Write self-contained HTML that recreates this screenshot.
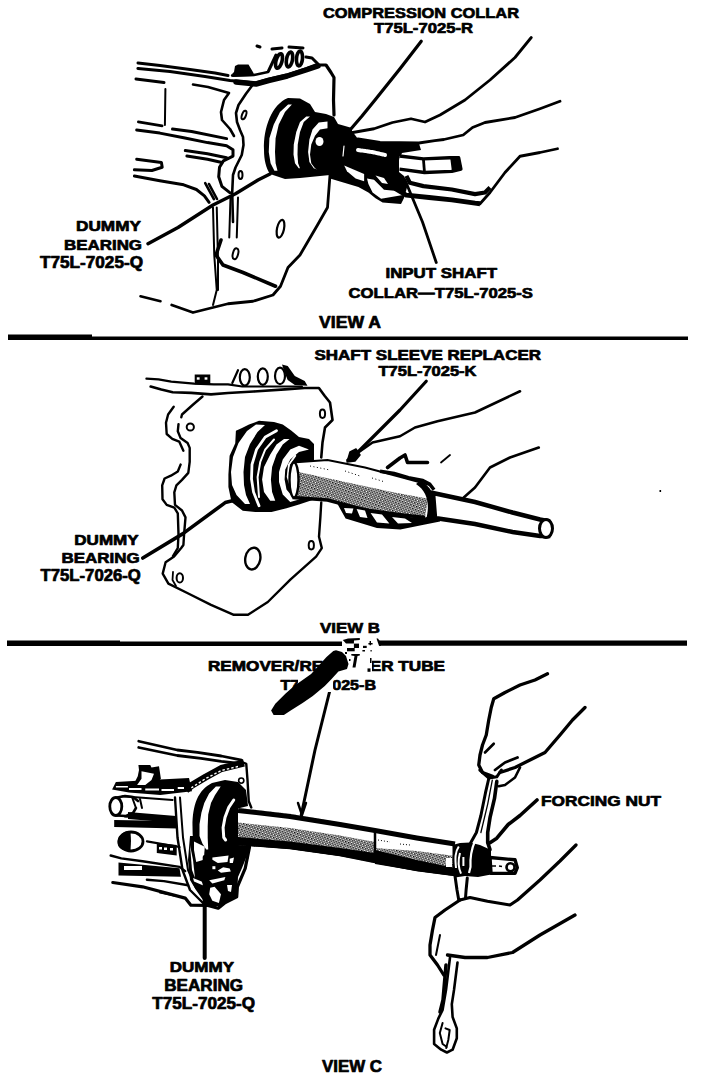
<!DOCTYPE html>
<html><head><meta charset="utf-8"><style>
html,body{margin:0;padding:0;background:#fff;width:704px;height:1078px;overflow:hidden}
svg{display:block}
text{font-family:"Liberation Sans",sans-serif;font-weight:bold;fill:#000;stroke:#000;stroke-width:0.7px;stroke-linejoin:round}
</style></head><body>
<svg width="704" height="1078" viewBox="0 0 704 1078">
<rect width="704" height="1078" fill="#fff"/>
<g fill="#000" stroke="none">
<path d="M8 334.5H92V336.5H688V340H8Z"/>
<path d="M7 640.5H120V641.5H342V646H7Z"/>
<path d="M379,640.5H687V645.8H379Z"/>
</g>
<g id="viewA" fill="none" stroke="#000" stroke-width="2.6" stroke-linecap="round" stroke-linejoin="round">
<!-- housing lines -->
<path d="M138,63 L160,65.5 L190,69.5 L215,73 L228,75.5" stroke-width="3"/>
<path d="M138,68.5 L170,71.5 L205,76.5 L230,80.5 L256,83 L268.5,79.4 L287.25,75 L306,68.75 L316,65 L326,65 L331,72.5 L334,77.5 L333.5,100 L334,115" stroke-width="3.2"/>
<path d="M232,75.5 L254,75 L268,72" stroke-width="2.4"/>
<path d="M236,82 L256,84 L268.5,80.5 L287.25,76 L306,70 L318,66" stroke-width="5.5"/>
<path d="M136,79 L164,82.5" stroke-width="3"/>
<path d="M193,84.5 L208,87 L229,93 L224,100 L221,112 L222,120 L230,129 L234,136"/>
<path d="M253.5,83.75 L246,93.75 L238.5,105 L236,113 L237,122 L240,130 L243,137 L243.5,145 L241.75,155 L238,162.5 L235.5,167.5 L233,175 L232.2,192.7 L233,222"/>
<path d="M165.4,89 L164.9,125.1" stroke-width="2"/>
<path d="M138.3,121.9 L162.2,125.9"/>
<path d="M136.7,129.9 L159.8,133.1 L183.7,137.8 L207.5,142.6 L226.6,145.8 L233,149.8 L233,156.1 L223.4,160.9 L219.5,167.3 L218.7,176.8 L221.9,186.4 L229.8,192.7" stroke-width="3"/>
<path d="M172.5,129.1 L191.6,131.5 L226.6,138.6" stroke-width="3"/>
<path d="M185.3,150.6 L207.5,153.7 L226.6,157.7" stroke-width="3"/>
<path d="M186.9,156.1 L207.5,159.3 L221.9,162.5" stroke-width="3"/>
<path d="M136.7,159.3 L161.4,162.5 L162.2,167.3 L151.9,170.5 L134.4,169.7" stroke-width="3"/>
<path d="M134.4,176 L159.8,180.8 L183.7,184.8 L196.4,189.5 L204.4,195.9 L209.1,202.3" stroke-width="3"/>
<path d="M205.2,183.2 L213.9,199.1 M209,184 L217,199"/>
<path d="M213,207.5 L214.25,255 L216.75,290 L213,305 M216.75,207.5 L218,260 L218,290" stroke-width="2"/>
<path d="M230.5,197.5 L229.25,237.5 M238,197.5 L236.75,237.5" stroke-width="2"/>
<path d="M221,240 L216,255 L223,265 L243,272.5 L275.5,286.25" stroke-width="3.6"/>
<path d="M330,175 L327.5,207.5 L317.5,225 L300,255 L288,267.5 L280.5,286.25 L273,295 L253,301.25 L228,303.75 L213,307.5 L193,312.5 L171.75,305" stroke-width="2.8"/>
<path d="M140.5,296.25 L160.5,301.25" stroke-width="2.6"/>
<!-- holes -->
<ellipse cx="280.5" cy="228.75" rx="3.5" ry="9" transform="rotate(12 280.5 228.75)" stroke-width="2.2"/>
<ellipse cx="235.5" cy="253.75" rx="2.6" ry="5.5" transform="rotate(15 235.5 253.75)" stroke-width="2"/>
<ellipse cx="240.5" cy="175" rx="2" ry="4" stroke-width="2"/>
<ellipse cx="244" cy="115" rx="2" ry="4.5" transform="rotate(20 244 115)" stroke-width="2"/>
<!-- bolts on top -->
<ellipse cx="279" cy="61" rx="3" ry="7.5" transform="rotate(15 279 61)" stroke-width="3.6"/>
<ellipse cx="289.5" cy="59.5" rx="3" ry="7.5" transform="rotate(10 289.5 59.5)" stroke-width="3.6"/>
<ellipse cx="299.5" cy="58.5" rx="3" ry="7.5" transform="rotate(5 299.5 58.5)" stroke-width="3.6"/>
<path d="M268.5,71 L276,55 M272,49 L282,48 M289,47 L303,48 M306,57 L312,58 L318,64" stroke-width="3"/>
<path d="M257,46 L260,47" stroke-width="3"/>
</g>
<g fill="#000" stroke="none">
<!-- nut blob on top -->
<path d="M232.25,76.9 L232.25,73.75 L234,72 L235,66 L238,64.4 L248.5,64.4 L253.5,73 L254.75,76 Z"/>
<!-- bearing silhouette -->
<path d="M264,150 C263,128 272,104 288,98 L300,98.5 L310,104 L315,112 L326,114 L334,117 L338,124 L352,128 L352,172 L340,174 L320,176 L300,178 L285,179 L270,174 C266,168 264,160 264,150 Z"/>
</g>
<g fill="#fff" stroke="none">
<path d="M288.1,104.5 L280,112 L273.75,124.5 L269.4,138.25 L268.75,152 L270.6,163.25 L274.4,170.75 L277.5,170.75 L275.6,163.25 L275,152 L275.6,138.25 L278.75,124.5 L285,112 L291.9,104.5 Z"/>
<path d="M306.25,116.4 L300,122 L296.25,132 L293.75,144.5 L293.5,154.5 L295,163.25 L298.75,168.25 L300,168.25 L298.1,163.25 L297.5,154.5 L297.75,144.5 L300,132 L303.75,122 L310,116.4 Z"/>
<path d="M327.5,121.4 L318.75,122.6 L312.5,129.5 L309.4,139.5 L308.1,152 L309.4,162 L313.75,168.25 L316.9,169.5 L315,168.25 L311.25,163.25 L310,154.5 L311.25,144.5 L315,135.75 L320,129.5 L327.5,128.25 Z"/>
</g>
<ellipse cx="319.5" cy="141.5" rx="4" ry="4.5" fill="#fff"/>
<g fill="#000" stroke="none">
<path d="M330,130 L352,131 L358,139 L380,142 L400,143 L419,143.5 L421,150 L402,153 L399,160 L399,172 L404,176 L408,184 L404,198 L401,204 L382.6,202.6 L375.5,198.3 L368.4,192.6 L358.4,186.9 L344.2,182.7 L330,178.4 Z"/>
</g>
<g fill="#fff" stroke="none">
<path d="M344.2,165.6 L364.1,174.1 L364.1,181.3 L355.6,178.4 L347,171.3 Z"/>
<path d="M367,178.4 L374,179.8 L384,189.8 L399.6,191.2 L403,195 L381.1,198.7 L372.6,192.6 L368.4,184.1 Z"/>
<path d="M375.5,175.6 L384,178 L388,184 L382,183 Z"/>
</g>
<g fill="none" stroke="#fff" stroke-linecap="round">
<path d="M358,150 L372,152 L385,155" stroke-width="4" stroke-dasharray="3 1.5"/>
<path d="M344,146 L343,156" stroke-width="1.2"/>
</g>
<path d="M399.5,156 L423.4,158.9 L449.5,157.7 L458.6,157.7 L460.9,169.1 L451.8,171.4 L424.5,172.5 L399.5,169.1" fill="#fff" stroke="#000" stroke-width="3.4" stroke-linejoin="round"/>
<path d="M423.4,158.9 L424.5,172.5" fill="none" stroke="#000" stroke-width="2.8"/>
<path d="M450,156 L459,156 L461,170 L452,172 Z" fill="#000"/>
<path d="M406.4,175.9 L409.8,182.7 L423.4,186.1 L451.8,189.5 L475,194.1 L485,192.5 L490,187.5" fill="none" stroke="#000" stroke-width="4.2" stroke-linejoin="round"/>
<path d="M395,188.4 L406.4,195.2 L429.1,197.5 L451.8,199.8 L475,203.2 L480,203.75" fill="none" stroke="#000" stroke-width="4.8" stroke-linejoin="round"/>
<g fill="none" stroke="#000" stroke-linecap="round" stroke-linejoin="round" stroke-width="2.6">
<!-- leader compression collar -->
<path d="M421.25,41.25 L400,68.75 L375,100 L362,116 L350,130" stroke-width="3.2"/>
<!-- fingers -->
<path d="M350,133 L374,128.75 L392.5,122.5 L411,118.75 L425,122 L440,115 L465,100 L490,80 L515,57.5 L531.25,37.5" stroke-width="2.8"/>
<path d="M358,139 L380,142.5 L418.9,143 L434.8,140.7 L443.9,139.5 L463.2,135 L472.5,127.5 L485,122.5 L515,117.5 L540,108.75 L560,101.25" stroke-width="2.8"/>
<path d="M480,203.75 L490,192.5 L505,172.5 L520,156.25 L540,152.5 L557.5,148.75" stroke-width="2.8"/>
<!-- input shaft leader -->
<path d="M405,180 L422.5,222 L436.25,262.5" stroke-width="2.8"/>
<!-- dummy bearing leader -->
<path d="M148,243.75 L178,227.5 L213,205 L235.5,193.75 L258,180 L270,174" stroke-width="3.4"/>
</g>
<defs>
<pattern id="knurl" width="3" height="3" patternUnits="userSpaceOnUse" patternTransform="rotate(20)">
<rect width="3" height="3" fill="#fff"/><rect width="1.6" height="1.6" fill="#000"/><rect x="1.5" y="1.5" width="1.4" height="1.4" fill="#000"/>
</pattern>
<linearGradient id="knurlfade" x1="0" y1="0" x2="0" y2="1">
<stop offset="0" stop-color="#fff" stop-opacity="1"/>
<stop offset="0.35" stop-color="#fff" stop-opacity="0.7"/>
<stop offset="0.6" stop-color="#fff" stop-opacity="0"/>
<stop offset="1" stop-color="#fff" stop-opacity="0"/>
</linearGradient>
</defs>
<g id="viewB" fill="none" stroke="#000" stroke-width="2.4" stroke-linecap="round" stroke-linejoin="round">
<!-- top lines -->
<path d="M146.4,378.7 L158.5,379.4 L171.25,381.6 L194,383.7 L213.9,384.4 L228,384.4 L242.2,386.5 L301.9,386.5" stroke-width="2.2"/>
<path d="M150.65,386.5 L161.3,389.4 L172.7,392.2 L191.1,392.9 L211,394.4 L228,393 L253.6,391.5 L284.8,389.4 L304.7,388 L318.9,388 L324.6,395.8 L330,402.5 L332.5,420 L325,427.5 L322.5,442.5 L321.25,457.5" stroke-width="2.6"/>
<path d="M232.3,383 L238,370.2" stroke-width="2.2"/>
<ellipse cx="244.8" cy="377.3" rx="5" ry="8.2" stroke-width="2.2"/>
<ellipse cx="262.8" cy="376.6" rx="5" ry="8.2" stroke-width="2.2"/>
<ellipse cx="280" cy="375.9" rx="5" ry="8.2" stroke-width="2.2"/>
<!-- flange left wavy edges -->
<path d="M202.5,396.5 L192.6,405 L182,414.5 L181.3,417.3" stroke-width="2.4"/>
<path d="M178.5,424.2 L177.8,431.2 L180.6,438.1 L187.6,443 L189.7,447.9 L189.7,461.8 L188.3,472.9 L182,479.9 L176.4,485.4 L174.3,492.4 L175,504.9 L182,510.5 L185.5,517.4 L184.1,534.1 L183.4,545 L181.2,548 L174.1,556.6 L165.6,562.3 L162.7,573.6 L168.4,583.6 L188.3,593.5 L211,604.9 L233.8,614.8 L248,614.8 L267.8,602 L290.6,579.3 L316.1,556.6 L321.8,548.1 L319,536.7 L320.4,516.8 L321.25,502.5"/>
<path d="M173.7,406.8 L168.1,414.5 L166,422.8 L166.7,434 L172.3,438.8 L179.2,441.6 L183.4,450.7"/>
<path d="M180.6,464.6 L177.8,471.5 L170.9,475.7 L164.6,478.5 L162.2,485.4 L162.5,499.3 L166.7,504.9 L174.3,507.7 L177.8,513.3 L178.5,534.1 L177.8,548 L173,556"/>
<circle cx="190.3" cy="427" r="3.6" stroke-width="2"/>
<ellipse cx="179.8" cy="577.9" rx="3.2" ry="4.6" stroke-width="2"/>
<path d="M173,572 L172.5,580 L176,586" stroke-width="1.8"/>
<ellipse cx="252.8" cy="558.6" rx="7.5" ry="11" transform="rotate(10 252.8 558.6)" stroke-width="2.4"/>
<ellipse cx="311.3" cy="545.2" rx="2.6" ry="4.2" stroke-width="2"/>
<ellipse cx="322.5" cy="413.75" rx="2.6" ry="4.2" stroke-width="2"/>
</g>
<g fill="#000" stroke="none">
<path d="M194.7,374.5 H210.3 V384.4 H194.7 Z"/>
<rect x="196.8" y="377.3" width="2.8" height="2.4" fill="#fff"/><rect x="204.6" y="377.3" width="2.8" height="2.4" fill="#fff"/>
<path d="M282,364.5 L287.7,366 L294.8,375.9 L304.7,380.9 L307.5,385.8 L294.8,385.1 L287.7,380.1 L284.8,373 Z"/>
<!-- bearing silhouette -->
<path d="M228.4,474.5 L229.6,455.75 L235.25,443.25 L235.9,430.75 L241.5,428.25 L249,424.5 L259,420.75 L274,422 L282.75,424.5 L291.5,430.75 L299,437 L309,438.9 L314,444 L314,499.5 L299,504.5 L286.5,508.25 L271.5,512 L255.25,512 L242.75,510.75 L231.5,502 L228.4,487 Z"/>
</g>
<g fill="#fff" stroke="none">
<path d="M256,424.5 L247,431 L238.5,443 L233,457 L231,472 L232,485 L236.5,495 L245,504 L250,504 L246,495 L244,485 L243.5,472 L245,457 L250,444 L257.5,432 L265,425 Z"/>
<path d="M284,438.9 L276.5,444.5 L270.25,454.5 L264,467 L262.1,479.5 L264,492 L270.25,500.75 L275.25,500.75 L272.1,492 L270.9,479.5 L272.1,467 L276.5,454.5 L282.75,444.5 L289.6,438.9 Z"/>
<path d="M299,445.75 L290.25,449.5 L282.75,459.5 L279,472 L279,482 L282.75,494.5 L290.25,502 L299,499.5 L300.25,498.25 L292.75,497 L286.5,489.5 L284.6,479.5 L285.25,469.5 L290.25,459.5 L299,452 L309,449.5 Z"/>
</g>
<g fill="none" stroke="#fff" stroke-linecap="round">
<path d="M276.5,430.75 L265.25,437 L256.5,449.5 L252,464.5 L251.5,479 L253.5,492 L259,505.75" stroke-width="2.8"/>
<path d="M274,439.5 L265.25,449.5 L260.25,462 L257.6,477 L259,497" stroke-width="2"/>
<path d="M295.25,455.75 L289,464.5 L287.75,477 L290.25,484.5 L294,487" stroke-width="2"/>
</g>
<!-- sleeve B -->
<path d="M292.5,462.5 L327.5,460 L365,467.5 L402.5,477.5 L430,485 L425,517.5 L402.5,515 L365,510 L327.5,500 L292.5,497.5 Z" fill="url(#knurl)"/>
<path d="M292.5,462.5 L327.5,460 L365,467.5 L402.5,477.5 L430,485 L430,499 L394.4,492.6 L295,471.3 Z" fill="#fff"/>
<path d="M310,466 L330,470 M345,471 L360,476 M372,478 L385,482" stroke="#000" stroke-width="1" stroke-dasharray="1 2.5" fill="none"/>
<path d="M292.5,462.5 L327.5,460 L365,467.5 L402.5,477.5 L430,485" fill="none" stroke="#000" stroke-width="2"/>
<path d="M292.5,497.5 L327.5,500 L365,510 L402.5,515 L425,517.5" fill="none" stroke="#000" stroke-width="3.4"/>
<ellipse cx="294" cy="480" rx="4.5" ry="17.5" fill="#fff" stroke="#000" stroke-width="2.4"/>
<!-- sleeve end / nut -->
<path d="M420,481 C432,486 438,500 436,518 L426,520 C430,505 428,492 416,484 Z" fill="#000"/>
<path d="M380,471.3 L394.2,473.4 L408.4,477.7 L422.6,480.5 L429.7,484.1 L434,489.8" fill="none" stroke="#000" stroke-width="3.5"/>
<path d="M380,516.8 L394.2,519.6 L408.4,521 L422.6,519.6 L436.8,516.8" fill="none" stroke="#000" stroke-width="3.5"/>
<!-- rod -->
<path d="M433,493 L475,502 L512.5,512.5 L540,519.5 L548,521 L548,536 L540,536 L512.5,532 L475,524 L435,518 Z" fill="#fff" stroke="#000" stroke-width="4.5"/>
<ellipse cx="546" cy="528.5" rx="6.5" ry="9" fill="#fff" stroke="#000" stroke-width="3"/>
<g fill="none" stroke="#000" stroke-linecap="round" stroke-linejoin="round" stroke-width="2.6">
<!-- leader B -->
<path d="M426.25,381.25 L400,410 L390,420 L352.5,457.5" stroke-width="3.2"/>
<path d="M347,462 L350,452 L356,449 L360,455 L355,461 Z" fill="#000" stroke-width="1.5"/>
<path d="M142.8,558 L182.6,533.9 L225.2,502.6 L236.6,499.8" stroke-width="3.6"/>
<!-- hand -->
<path d="M347.5,460 L372.5,442.5 L400,436.25 L415,427.5 L437.5,421.25 L475,412.5 L520,391.25" stroke-width="2.6"/>
<path d="M463.75,497.5 L475,487.5 L490,467.5 L510,457.5 L538.75,447.5" stroke-width="2.6"/>
<path d="M387.5,467.5 L400,458 L405,455 L407.5,462.5 L427.5,462.5" stroke-width="3.6"/>
<path d="M441,462.5 L450,455" stroke-width="1.8"/>
<path d="M338,502 L376.9,510.5 L405,516.5 L423.75,518.5 L440,518.5 L440,521.5 L423.75,524.8 L400.3,529.5 L376.9,528 L345.6,518.6 L337.5,504 Z" fill="#000" stroke="none"/>
<path d="M344,508 L353.4,508.5 L352,513.4 L346,513 Z M356.6,509 L365,510.5 L367.5,518 L360,517 Z M370.6,513 L382,514.5 L389.4,523.6 L377,522.5 Z M392,517 L405,518.5 L412,523 L398,523.5 Z" fill="#fff" stroke="none"/>
</g>
<rect x="659.5" y="490" width="1.6" height="2" fill="#000"/>
<g id="viewC" fill="none" stroke="#000" stroke-width="2.4" stroke-linecap="round" stroke-linejoin="round">
<!-- case top lines -->
<path d="M138.75,741.25 L177.2,750 L197.4,752.4 L221.3,756 L241.6,760.1" stroke-width="2.8"/>
<path d="M138.75,747.5 L177.2,755.5 L201,758.4 L221.3,761.3 L241.6,763.6" stroke-width="2.8"/>
<path d="M240,761.25 L246.25,763.75 L247.5,780 L248.75,801.25 L251.25,807.5" stroke-width="2.4"/>
<path d="M244,763 L221.3,768.5 L205.8,777 L191.5,785.5 L186,790" stroke-width="7" stroke-linecap="butt"/>
<path d="M238,766.5 L221.3,770.5 L205.8,778.5 L188,790" stroke="#fff" stroke-width="1.4" stroke-dasharray="2.5 2" stroke-linecap="butt"/>
<!-- front face left edges -->
<path d="M175,797.5 L177.5,837.5 L182.5,870 L190,890 L205,905" stroke-width="2.4"/>
<path d="M180,797.5 L183,837.5 L188,870 L196,888 L208,900" stroke-width="2"/>
<!-- boss 1 -->
<ellipse cx="115.8" cy="806.5" rx="6" ry="9" stroke-width="2.8"/>
<path d="M117,797.5 L125,796 L133,797 L138,801 M117,815.5 L126,816 L133,813 L136,808" stroke-width="2.6"/>
<path d="M122.5,796.25 L172.5,800" stroke-width="2.2"/>
<path d="M125,816.25 L175,820" stroke-width="2.4"/>
<path d="M132,797 L136,808 M140,799 L142,808" stroke-width="2"/>
<!-- boss 2 -->
<path d="M146.9,841.3 L179.5,847" stroke-width="2.2"/>
<path d="M110.65,855.5 L121.3,858.4 L142.6,861.2 L179.5,866.9 L185.2,871.1" stroke-width="2.4"/>
<path d="M112.8,882.5 L142.6,886.8 L185.2,898.1 L190.9,905.2 L206.9,905.3 L218.2,908.2 L225.3,902.5 L236.7,896.8 L237.4,886.9 L245.2,868.4 L249.5,847.1 L248.1,840" stroke-width="3.2"/>
<path d="M146.9,879.7 L163.9,881.1 L188.1,885.3" stroke-width="2.4"/>
<path d="M160,892.6 L174.2,895.4" stroke-width="2"/>
<path d="M247.5,842.5 L247.5,857.5" stroke-width="2.4"/>
</g>
<g fill="#000" stroke="none">
<!-- tab -->
<path d="M138.4,765 L150.25,765 L151.5,767.5 L159,766.25 L160.9,778.75 L155.25,785 L141.5,786.9 L134,783.75 L137.75,776.25 L139,770 Z"/>
<!-- top black band -->
<path d="M115.9,781.9 L150,780 L189,778.1 L192,791.25 L160.25,795 L129,792.5 L112.1,789.4 Z"/>
<!-- black band mid -->
<path d="M128,812 L176,816 L177,823 L128,819 Z"/>
<!-- band below -->
<path d="M114.2,820 L176,821 L177,828.5 L114.2,827.1 Z"/>
<path d="M118.5,862.6 L179.5,868.3 L181,876.8 L118.5,875.4 Z"/>
<!-- boss 2 half -->
<path d="M130.5,831 C122,831 117.5,837 117.5,842 C117.5,848 122,851 130.5,851 L131,841 Z"/>
<ellipse cx="131" cy="841.5" rx="12" ry="9.5" fill="none" stroke="#000" stroke-width="2.8"/>
<!-- small rect -->
<path d="M156.8,842.7 L176.7,845 L176.7,855.5 L156.8,853 Z"/>
<!-- bearing C silhouette -->
<path d="M192.5,826 C192.5,805 198,790 212,783 L225,780 L238,782 L246,790 L248,806 L240,808 L238,846 L247,848 L244,858 L236,866 L220,870 L205,866 L196,855 C193,846 192.5,836 192.5,826 Z"/>
<!-- lower flange darks -->
<path d="M190,836 L250,836 L249,847 L246,858 L242,868 L238,877 L237,895 L232,900 L221,906 L207,907 L203,900 L196,890 L190,880 L188,860 Z"/>
</g>
<g fill="#fff" stroke="none">
<path d="M215.9,786.6 L209.1,793.4 L204.3,803 L201.4,812.7 L199.5,824.3 L199.5,835.9 L202.4,843.6 L206.2,849.4 L208.2,849.4 L207.7,837.8 L207.7,826.2 L208.2,814.6 L211,803 L214.9,795.3 L220.7,786.6 Z"/>
<path d="M194,841.4 L204.8,846.8 L203.8,859.8 L196.2,862 L194,850 Z"/>
<path d="M212.4,857.6 L228.6,855.4 L227.5,861.9 L217.8,863 L212.4,859.8 Z"/>
<path d="M229.7,858.7 L234,857.6 L232.9,863 L229.7,863 Z"/>
<rect x="212.4" y="866.2" width="3" height="3"/>
<path d="M217.8,870.6 L223.2,867.3 L229.7,868.4 L230.8,871.6 L221,872.7 Z"/>
<path d="M209.2,880.3 L225.4,877 L224.3,880.3 L212.4,883.5 Z"/>
<path d="M193,878 L201.6,881.4 L203.8,885.7 L194,881.4 Z"/>
<path d="M210.2,887.8 L214.6,886.8 L221,894.3 L218.9,903 L212.4,900.8 L209.2,894.3 Z"/>
<path d="M227,885 L232,885 L231,892 L228,891 Z"/>
<path d="M190,845 L192,870 L195,878 L193,860 Z"/>
<path d="M141.5,771.25 L154,773.75 L151.5,780 L145.25,785 L137.1,785 L141.5,778.75 Z"/>
<rect x="129" y="788" width="12.5" height="2"/><rect x="145.25" y="788.5" width="13.75" height="2"/><rect x="161.5" y="789" width="12.5" height="2"/><rect x="177.75" y="787" width="6.25" height="2"/>
<rect x="115.9" y="786" width="12" height="1.5"/>
<rect x="159" y="847" width="3" height="2.5"/>
<rect x="164" y="847.5" width="3" height="2.5"/>
<rect x="170" y="848" width="3" height="2.5"/>
<rect x="124" y="866" width="18" height="4"/>
</g>
<g fill="none" stroke="#fff" stroke-linecap="round">
<path d="M233.75,800 L228.75,807.5 L225,817.5 L223.1,827.5 L223.75,837.5 L225.6,840" stroke-width="3"/>
<circle cx="241.25" cy="780.6" r="1.5" stroke-width="1"/>
</g>
<circle cx="241.25" cy="780.6" r="2.6" fill="none" stroke="#000" stroke-width="1.6"/>
<!-- tube C -->
<path d="M238,808 L290,813.75 L340,822.5 L375,829 L416.8,836 L455,842 L455,876 L416.8,871 L375,863 L340,856 L290,849 L238,845 Z" fill="url(#knurl)"/>
<path d="M238,808 L290,813.75 L340,822.5 L375,829 L375,842 L340,835.5 L290,828 L238,822.5 Z" fill="#fff"/>
<path d="M375,829 L416.8,836 L455,842 L455,856 L416.8,851 L375,848 Z" fill="#fff"/>
<path d="M238,837 L290,841.5 L340,848 L375,853 L375,862 L340,856 L290,849 L238,845 Z" fill="#000"/>
<path d="M375,850 L416.8,860 L455,868 L455,876 L416.8,871 L375,864 Z" fill="#000"/>
<path d="M238,810.5 L290,816.5 L340,824.5 L375,830.5 L416.8,838 L455,844" fill="none" stroke="#000" stroke-width="5"/>
<path d="M238,844 L290,848 L340,855 L375,862 L416.8,870 L455,875" fill="none" stroke="#000" stroke-width="2.5"/>
<path d="M375,829 L375,862" fill="none" stroke="#000" stroke-width="2.5"/>
<path d="M378,840 L390,842 M400,844 L410,845" stroke="#000" stroke-width="1" stroke-dasharray="1 2" fill="none"/>
<!-- nut & rod -->
<path d="M452.5,845 L460,843 L470,842.5 L480,845 L491,850 L491,874.5 L478,877 L465,876 L455,877.5 L452.5,870 Z" fill="#000"/>
<path d="M458.8,846.5 C455,852 455,858 456,868 M460,853 C458,860 458,867 461,873.6 M463.4,857 L463.4,866" fill="none" stroke="#fff" stroke-width="2"/>
<path d="M475,841 C471,850 470,858 470.5,867 L469,873" fill="none" stroke="#fff" stroke-width="2.2"/>
<path d="M446,858 L452,858 L452,867 L446,867 Z" fill="#fff"/>
<path d="M490,857.5 L515,859.8 L517.3,867.7 L515,873.4 L491,873.4 Z" fill="#fff" stroke="#000" stroke-width="3.4" stroke-linejoin="round"/>
<ellipse cx="510.5" cy="867.2" rx="4" ry="4" fill="#fff" stroke="#000" stroke-width="2.6"/>
<path d="M492,866 L496,866 M499,866 L502,866.5" stroke="#000" stroke-width="1.6"/>
<g fill="none" stroke="#000" stroke-linecap="round" stroke-linejoin="round" stroke-width="2.6">
<!-- leader tube -->
<path d="M330,690 L315,750 L301.25,815" stroke-width="3"/>
<path d="M298,803 L302,815 L306,803" stroke-width="2.4"/>
<!-- leader dummy -->
<path d="M204.7,857 L204.7,958" stroke-width="4"/>
<!-- forcing nut leader -->
<path d="M537,800 L520,815.5 L508.2,824.5 L496.8,838.2 L490,842.7" stroke-width="3.6"/>
<!-- upper hand -->
<path d="M547.5,673.75 L535,680 L520,685 L505,692.5 L493.75,698.75 L491.25,707.5 L488.75,720 L486.25,735 L482.5,745 L480,755 L478.75,765 L482.5,772.5 L492.5,776.25" stroke-width="3.3"/>
<path d="M493.75,743.75 L485,752.5" stroke-width="2.6"/>
<path d="M585,707.5 L572.5,720 L560,735 L545,752.5 L530,760 L515,767.5 L500,772.5" stroke-width="3.3"/>
<path d="M517.5,757.5 L505,762.5 L495,770" stroke-width="2.8"/>
<path d="M520,767.5 L515,777.5 L505,785 L498.75,786.25" stroke-width="2.6"/>
<!-- wrench upper handle -->
<path d="M488.9,778 L485.5,792.7 L480.9,815.5 L476.4,832.5 L470.7,842.7 L468.4,849.5" stroke-width="3"/>
<path d="M496.8,781.4 L494.5,798.4 L490,817.7 L487.7,832.5 L487.7,842.7 L490,849.5" stroke-width="3.6"/>
<path d="M492.3,780.2 L487.7,804.1 L480.9,832.5" stroke-width="1.3"/>
<path d="M479.8,770 L488.9,778 L496.8,776.8 L501.4,770" stroke-width="3"/>
<!-- wrench lower -->
<path d="M454.8,874.5 L457,890 L458.75,900 M467.3,878 L466.1,890 L465.5,898" stroke-width="3"/>
<!-- lower hand -->
<path d="M460,900 L470,897.5 L487.5,901.25 L510,905 L517.5,900 L540,880 L560,861 L576,845" stroke-width="3.2"/>
<path d="M460,900 L445,910 L435,917.5 L432.5,930 L430,945 L430,955 L437.5,965 L443.75,975" stroke-width="3.3"/>
<path d="M447.5,955 L465,957.5 L487.5,957.5 L512.5,952.5 L540,935 L575,915" stroke-width="3.3"/>
<path d="M440,935 L438,945 L436,955" stroke-width="2"/>
<!-- wrench bottom -->
<path d="M450,957.5 L446,990 L442.6,1009.9 L438.4,1018.4 L434.1,1029.8 L434.1,1044 L441.2,1049.7 L446.9,1052.5 L452.6,1049.7 L456.8,1038.3 L456.8,1028.4 L452.6,1017 L451.8,1004.2 L454,990 L457.5,962.5" stroke-width="2.6"/>
<path d="M446,965 L443,1000 L440,1012" stroke-width="3.5"/>
<path d="M442.6,1023 L439.8,1033 L442.6,1044 L446.9,1047 M445.5,1028.4 L449.7,1030 L448.3,1040 L446.2,1048" stroke-width="2"/>
</g>

<g>
<text x="323" y="18" font-size="15.09" textLength="196.0" lengthAdjust="spacingAndGlyphs">COMPRESSION COLLAR</text>
<text x="374" y="33" font-size="15.09" textLength="99.0" lengthAdjust="spacingAndGlyphs">T75L-7025-R</text>
<text x="76" y="231" font-size="15.09" textLength="65.0" lengthAdjust="spacingAndGlyphs">DUMMY</text>
<text x="64" y="249.5" font-size="15.09" textLength="78.0" lengthAdjust="spacingAndGlyphs">BEARING</text>
<text x="40" y="268" font-size="15.78" textLength="103.0" lengthAdjust="spacingAndGlyphs">T75L-7025-Q</text>
<text x="385.5" y="277.7" font-size="14.40" textLength="111.5" lengthAdjust="spacingAndGlyphs">INPUT SHAFT</text>
<text x="348.5" y="297.6" font-size="15.09" textLength="184.5" lengthAdjust="spacingAndGlyphs">COLLAR—T75L-7025-S</text>
<text x="319" y="327.7" font-size="15.78" textLength="62.0" lengthAdjust="spacingAndGlyphs">VIEW A</text>
<text x="314.5" y="359.5" font-size="14.40" textLength="226.5" lengthAdjust="spacingAndGlyphs">SHAFT SLEEVE REPLACER</text>
<text x="378.5" y="376.2" font-size="14.40" textLength="98.0" lengthAdjust="spacingAndGlyphs">T75L-7025-K</text>
<text x="74.3" y="545.1" font-size="14.40" textLength="64.4" lengthAdjust="spacingAndGlyphs">DUMMY</text>
<text x="61.5" y="563" font-size="14.40" textLength="78.2" lengthAdjust="spacingAndGlyphs">BEARING</text>
<text x="40.6" y="581.2" font-size="15.78" textLength="100.2" lengthAdjust="spacingAndGlyphs">T75L-7026-Q</text>
<text x="320" y="632.7" font-size="15.50" textLength="60.0" lengthAdjust="spacingAndGlyphs">VIEW B</text>
<text x="208" y="671.4" font-size="13.99" textLength="237.0" lengthAdjust="spacingAndGlyphs">REMOVER/REPLACER TUBE</text>
<text x="280.5" y="690.2" font-size="13.99" textLength="95.5" lengthAdjust="spacingAndGlyphs">T75L-7025-B</text>
<text x="541" y="806" font-size="15.50" textLength="120.0" lengthAdjust="spacingAndGlyphs">FORCING NUT</text>
<text x="169.8" y="972.3" font-size="14.40" textLength="64.2" lengthAdjust="spacingAndGlyphs">DUMMY</text>
<text x="164.3" y="990.8" font-size="15.78" textLength="78.7" lengthAdjust="spacingAndGlyphs">BEARING</text>
<text x="152.3" y="1009.3" font-size="15.91" textLength="102.7" lengthAdjust="spacingAndGlyphs">T75L-7025-Q</text>
<text x="322" y="1071.7" font-size="16.19" textLength="60.0" lengthAdjust="spacingAndGlyphs">VIEW C</text>
</g>
<g fill="#fff" stroke="none">
<path d="M326,658 L372,658 L372,673 L326,673 Z"/>
<path d="M298,677 L333,677 L333,692 L298,692 Z"/>
</g>
<!-- smudge -->
<path d="M271.1,710.6 L275.3,703.8 L285.6,693.6 L294.1,685.9 L311.1,674 L326.5,656.9 L333.3,651 L336,650.3 L342,652 L346,656 L348.5,664 L347,669 L338.4,671.6 L331.6,679.1 L324.8,685.9 L312.8,696.1 L302.6,702.9 L290.7,710.6 L283.9,714.9 L273.6,714.9 Z" fill="#000"/>

<g fill="#000" stroke="none">
<path d="M342.8,640 L348,638.5 L359.8,638 L359.8,640 L354,640.5 L353.9,643.6 L346,643.6 Z"/>
<path d="M353.9,643.6 L359,643.6 L359,648 L353.9,648 Z"/>
<path d="M347,648 L354.7,648 L354.7,651.3 L347,651.3 Z"/>
<path d="M351.3,653.9 L359.8,653.9 L359.8,655.6 L357.5,656 L355.5,667.5 L352.5,667.5 L354.5,656 L351.3,655.6 Z"/>
<rect x="363" y="645.8" width="3.7" height="2.2"/>
<rect x="362.4" y="650" width="2.6" height="1.5"/>
<path d="M369.6,641 L371,641 L371,643 L372.6,643 L372.6,644.5 L371,644.5 L371,645.3 L369.6,645.3 L369.6,644.5 L368.4,644.5 L368.4,643 L369.6,643 Z"/>
<rect x="370.5" y="650" width="1.2" height="1.5"/>
<rect x="370" y="658" width="1.5" height="5"/>
<rect x="367.5" y="668.4" width="3" height="3.4"/>
<path d="M376.5,638.5 L378,638.5 L381,643 L381,645.8 L379,645.8 Z"/>
<rect x="349" y="659" width="1.5" height="2"/><rect x="345" y="652" width="2" height="2"/>
</g>

</svg>
</body></html>
